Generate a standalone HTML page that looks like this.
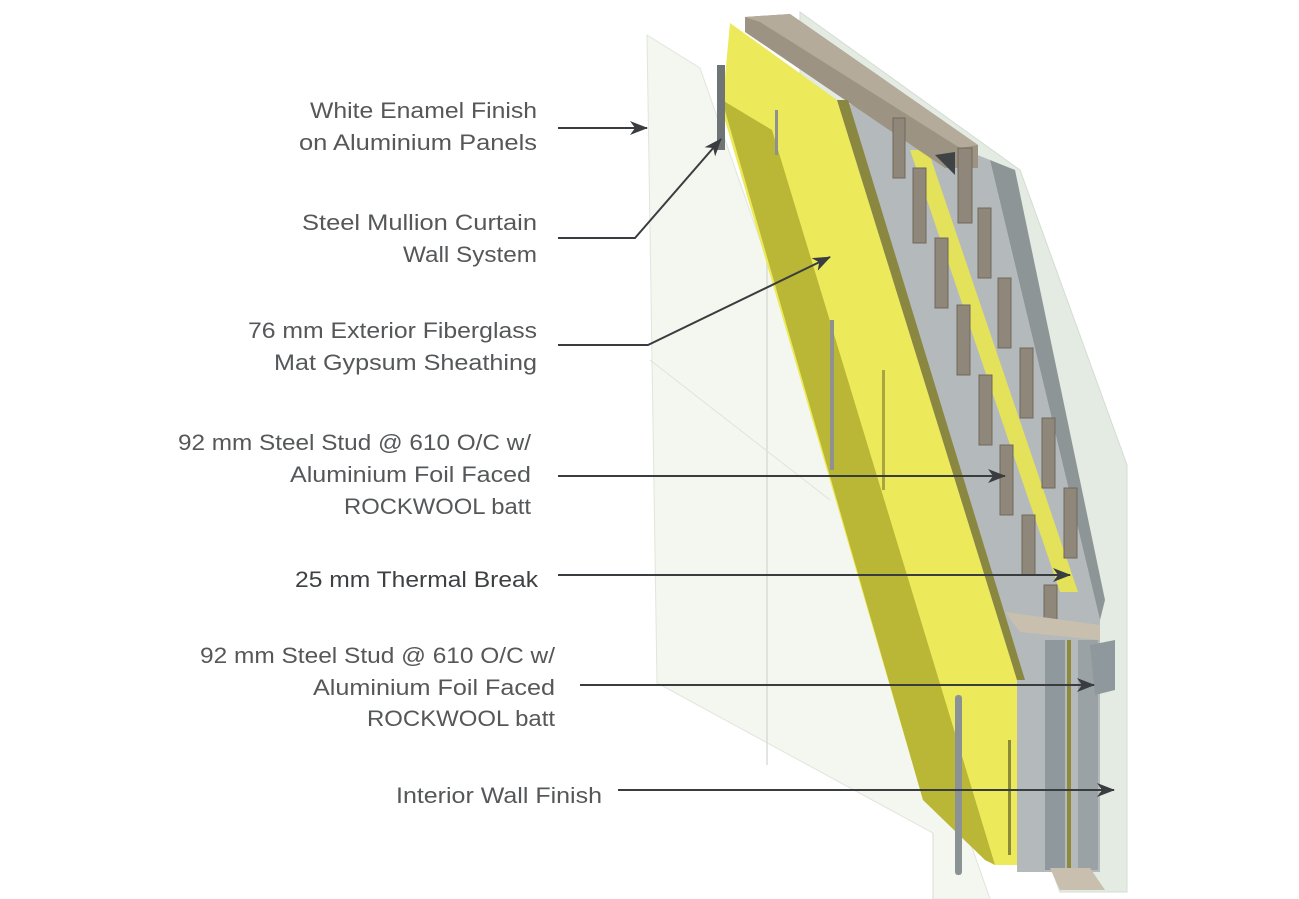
<!DOCTYPE html>
<html><head><meta charset="utf-8"><style>html,body{margin:0;padding:0;background:#fff}svg{display:block}</style></head>
<body>
<svg width="1299" height="899" viewBox="0 0 1299 899" xmlns="http://www.w3.org/2000/svg">
<defs>
<marker id="ah" viewBox="0 0 18 14" refX="17" refY="7" markerWidth="18" markerHeight="14" markerUnits="userSpaceOnUse" orient="auto">
<path d="M0,0 L18,7 L0,14 L5,7 Z" fill="#3a3d40"/>
</marker>
</defs>
<polygon points="800,12 1020,170 1127,465 1127,892 1060,892 800,200" fill="#e4ebe3" stroke="#d5dcd4"/>
<polygon points="647,35 700,68 990,899 933,899 933,833 657,683" fill="#f3f7ef" stroke="#e0e6dc"/>
<line x1="767" y1="250" x2="767" y2="765" stroke="#d8ddd5" stroke-width="1.5"/>
<line x1="650" y1="360" x2="830" y2="500" stroke="#e0e4d8" stroke-width="1"/>
<polygon points="840,100 990,160 1100,620 1100,872 1017,872 1017,680" fill="#b4babb"/>
<polygon points="990,160 1015,170 1105,600 1100,620" fill="#8e9597"/>
<polygon points="910,150 928,150 1078,592 1060,592" fill="#e3e25a"/>
<polygon points="745,17 790,14 978,145 978,168 945,168 745,32" fill="#9d9383"/>
<polygon points="745,17 790,14 978,145 960,148 760,22" fill="#b5ab9b"/>
<g fill="#8f8779" stroke="#6f685c" stroke-width="1">
<rect x="893" y="118" width="12" height="60"/>
<rect x="913" y="168" width="13" height="75"/>
<rect x="935" y="238" width="13" height="70"/>
<rect x="957" y="305" width="13" height="70"/>
<rect x="979" y="375" width="13" height="70"/>
<rect x="1000" y="445" width="13" height="70"/>
<rect x="1022" y="515" width="13" height="60"/>
<rect x="1044" y="585" width="13" height="40"/>
<rect x="958" y="148" width="14" height="75"/>
<rect x="978" y="208" width="13" height="70"/>
<rect x="998" y="278" width="13" height="70"/>
<rect x="1020" y="348" width="13" height="70"/>
<rect x="1042" y="418" width="13" height="70"/>
<rect x="1064" y="488" width="13" height="70"/>
</g>
<polygon points="935,155 955,152 955,175" fill="#3e4345"/>
<rect x="1045" y="640" width="20" height="230" fill="#8f989c"/>
<rect x="1067" y="640" width="4" height="230" fill="#8f8a3a"/>
<rect x="1078" y="640" width="20" height="230" fill="#9aa2a6"/>
<polygon points="1090,645 1115,640 1115,690 1095,695" fill="#8f989c"/>
<polygon points="1005,612 1100,625 1100,640 1020,632" fill="#c8bfae"/>
<polygon points="1050,868 1090,868 1105,890 1060,890" fill="#c8bfae"/>
<polygon points="730,23 837,100 1017,680 1017,865 995,865 923,800 722,110" fill="#ece95a"/>
<polygon points="722,100 772,130 995,865 985,860 923,800" fill="#bab636"/>
<polygon points="837,100 848,100 1025,680 1017,680" fill="#8a8740"/>
<rect x="717" y="65" width="8" height="85" fill="#6f7577"/>
<rect x="775" y="110" width="3" height="45" fill="#8f9090"/>
<rect x="830" y="320" width="4" height="150" fill="#8f9090"/>
<rect x="882" y="370" width="3" height="120" fill="#a9a640"/>
<rect x="955" y="695" width="7" height="180" fill="#8a9296" rx="3"/>
<rect x="1008" y="740" width="3" height="115" fill="#8a8a3a"/>
<line x1="933" y1="833" x2="933" y2="899" stroke="#d8ddd5"/>
<g stroke="#3a3d40" stroke-width="2" fill="none">
<line x1="558" y1="128" x2="647" y2="128" marker-end="url(#ah)"/>
<polyline points="558,238 635,238 721,139" marker-end="url(#ah)"/>
<polyline points="558,345 648,345 830,257" marker-end="url(#ah)"/>
<line x1="558" y1="476" x2="1005" y2="476" marker-end="url(#ah)"/>
<line x1="558" y1="575" x2="1070" y2="575" marker-end="url(#ah)"/>
<line x1="580" y1="685" x2="1094" y2="685" marker-end="url(#ah)"/>
<line x1="618" y1="790" x2="1114" y2="790" marker-end="url(#ah)"/>
</g>
<g font-family="Liberation Sans, sans-serif" font-size="22" fill="#555759">
<text x="310" y="118" textLength="227" lengthAdjust="spacingAndGlyphs">White Enamel Finish</text>
<text x="299" y="150" textLength="238" lengthAdjust="spacingAndGlyphs">on Aluminium Panels</text>
<text x="302" y="230" textLength="235" lengthAdjust="spacingAndGlyphs">Steel Mullion Curtain</text>
<text x="403" y="262" textLength="134" lengthAdjust="spacingAndGlyphs">Wall System</text>
<text x="248" y="338" textLength="289" lengthAdjust="spacingAndGlyphs">76 mm Exterior Fiberglass</text>
<text x="274" y="370" textLength="263" lengthAdjust="spacingAndGlyphs">Mat Gypsum Sheathing</text>
<text x="178" y="450" textLength="353" lengthAdjust="spacingAndGlyphs">92 mm Steel Stud @ 610 O/C w/</text>
<text x="290" y="482" textLength="241" lengthAdjust="spacingAndGlyphs">Aluminium Foil Faced</text>
<text x="344" y="514" textLength="187" lengthAdjust="spacingAndGlyphs">ROCKWOOL batt</text>
<text x="295" y="587" textLength="243" lengthAdjust="spacingAndGlyphs" fill="#3e4042">25 mm Thermal Break</text>
<text x="200" y="663" textLength="355" lengthAdjust="spacingAndGlyphs">92 mm Steel Stud @ 610 O/C w/</text>
<text x="313" y="695" textLength="242" lengthAdjust="spacingAndGlyphs">Aluminium Foil Faced</text>
<text x="367" y="726" textLength="188" lengthAdjust="spacingAndGlyphs">ROCKWOOL batt</text>
<text x="396" y="803" textLength="206" lengthAdjust="spacingAndGlyphs">Interior Wall Finish</text>
</g>
</svg>
</body></html>
